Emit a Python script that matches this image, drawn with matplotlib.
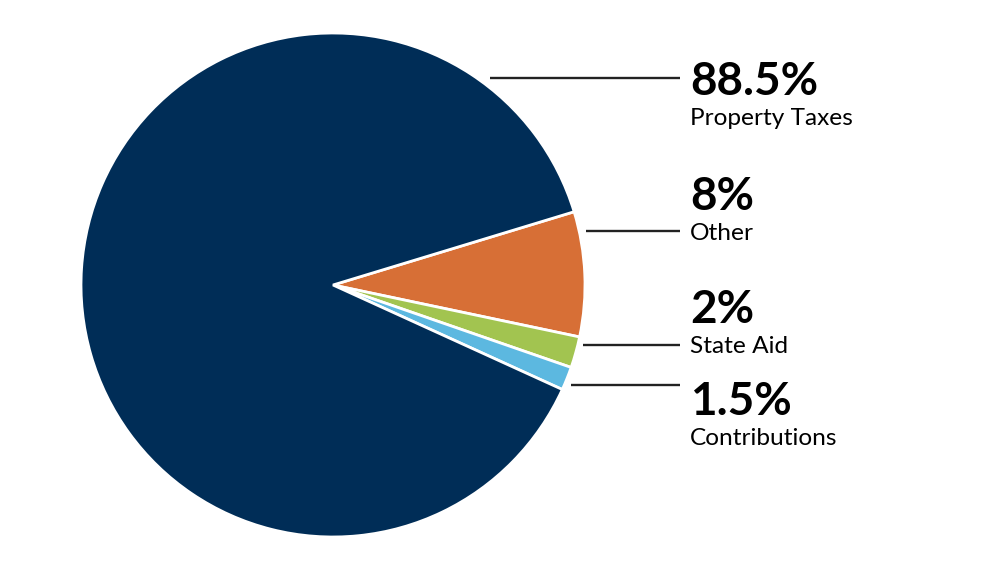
import numpy as np
import matplotlib.pyplot as plt

labels = ["Other", "State Aid", "Contributions", "Property Taxes"]
values = [8, 2, 1.5, 88.5]
pct_text = ["8%", "2%", "1.5%", "88.5%"]
colors = ["#D76F36", "#A2C450", "#5CB8E0", "#002D57"]

W, H = 1000, 570
cx, cy, r = 333, 285, 252

fig = plt.figure(figsize=(W / 100, H / 100), dpi=100)
ax = fig.add_axes([0, 0, 1, 1])
ax.set_xlim(0, W)
ax.set_ylim(0, H)
ax.set_aspect("equal")
ax.axis("off")

ax.pie(values, colors=colors, startangle=16.9, counterclock=False,
       center=(cx, H - cy), radius=r,
       wedgeprops=dict(edgecolor="white", linewidth=2))
ax.set_xlim(0, W)
ax.set_ylim(0, H)

# label layout (pixel rows from top): leader line y, percent baseline, name baseline
layout = {
    "Property Taxes": (78, 95, 125, 13),
    "Other": (231, 210, 240, 7),
    "State Aid": (345, 323, 353, 5),
    "Contributions": (385, 415, 445, 7),
}
tx = 690
for lab, pct in zip(labels, pct_text):
    ly, pb, nb, gap = layout[lab]
    dy = ly - cy
    x0 = cx + np.sqrt(r**2 - dy**2) + gap
    ax.plot([x0, 680], [H - ly, H - ly], color="#222222", lw=1.7,
            solid_capstyle="butt")
    ax.text(tx, H - pb, pct, fontsize=33, fontweight="bold", family="Lato",
            va="baseline", ha="left", color="black")
    ax.text(tx, H - nb, lab, fontsize=17.6, family="Lato",
            va="baseline", ha="left", color="black")

fig.savefig("out.png", dpi=100, facecolor="white")
